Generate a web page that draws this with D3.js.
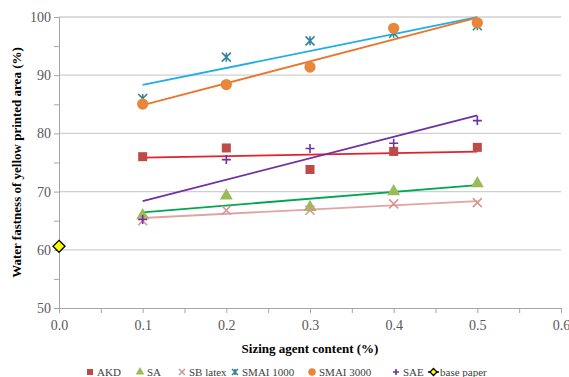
<!DOCTYPE html>
<html>
<head>
<meta charset="utf-8">
<script src="https://cdn.jsdelivr.net/npm/d3@7"></script>
<style>
  body { margin: 0; background: #fff; }
</style>
</head>
<body>
<div id="chart"></div>
<script>
// data
const content = [0.1, 0.2, 0.3, 0.4, 0.5];
const akd = [76.0, 77.5, 73.8, 76.9, 77.6];
const sa = [65.9, 69.3, 67.3, 70.0, 71.4];
const sbLatex = [65.0, 66.8, 66.8, 67.9, 68.1];
const smai1000 = [86.0, 93.1, 95.9, 97.2, 98.5];
const smai3000 = [85.05, 88.4, 91.4, 98.05, 99.0];
const sae = [65.2, 75.5, 77.4, 78.3, 82.2];
const basePaper = [[0.0, 60.6]];
const xTicks = [0, 0.1, 0.2, 0.3, 0.4, 0.5, 0.6];
const yTicks = [50, 60, 70, 80, 90, 100];

const width = 569, height = 377;
const margin = {left: 59, right: 8, top: 17, bottom: 69};
const serif = "'Liberation Serif'";

let svg = d3.select("#chart").append("svg")
    .attr("width", width)
    .attr("height", height);

let x = d3.scaleLinear().domain([0, 0.6]).range([margin.left, width - margin.right]);
let y = d3.scaleLinear().domain([50, 100]).range([height - margin.bottom, margin.top]);

// series: name, values, marker colour, trend colour, symbol
let series = [
    {name: "AKD", vals: akd, col: "#BE4B48", trend: "#E5202A", sym: "square"},
    {name: "SA", vals: sa, col: "#9BBB59", trend: "#00A651", sym: "triangle"},
    {name: "SB latex", vals: sbLatex, col: "#D99594", trend: "#E2A3A3", sym: "x"},
    {name: "SMAI 1000", vals: smai1000, col: "#31859C", trend: "#1FAEE5", sym: "star"},
    {name: "SMAI 3000", vals: smai3000, col: "#E8873A", trend: "#E8772E", sym: "circle"},
    {name: "SAE", vals: sae, col: "#7030A0", trend: "#7030A0", sym: "plus"}
];

// gridlines
svg.append("g").selectAll("line")
    .data(yTicks.filter(d => d > 50))
    .join("line")
    .attr("x1", x(0)).attr("x2", x(0.6))
    .attr("y1", d => y(d)).attr("y2", d => y(d))
    .style("stroke", "#D0D0D0").style("stroke-width", 1.3);

// axes
let yAxis = d3.axisLeft(y).tickValues(yTicks).tickSize(5).tickFormat(d3.format("d"));
let yMinor = d3.axisLeft(y).tickValues([55, 65, 75, 85, 95]).tickSize(5).tickFormat("");
let xAxis = d3.axisBottom(x).tickValues(xTicks).tickSize(5).tickFormat(d3.format(".1f"));
let xMinor = d3.axisBottom(x).tickValues([0.05, 0.15, 0.25, 0.35, 0.45, 0.55]).tickSize(5).tickFormat("");

function styleAxis(g) {
    g.selectAll("path, line").style("stroke", "#A6A6A6");
    g.selectAll("text").style("font-family", serif).style("font-size", "14px").style("fill", "#595959");
}
svg.append("g").attr("transform", "translate(" + x(0) + ",0)").call(yAxis).call(styleAxis)
    .selectAll("text").attr("x", -8);
svg.append("g").attr("transform", "translate(" + x(0) + ",0)").call(yMinor).call(styleAxis);
svg.append("g").attr("transform", "translate(0," + y(50) + ")").call(xAxis).call(styleAxis)
    .selectAll("text").attr("y", 12);
svg.append("g").attr("transform", "translate(0," + y(50) + ")").call(xMinor).call(styleAxis);

// titles
svg.append("text")
    .attr("transform", "translate(21," + ((y(50) + y(100)) / 2) + ") rotate(-90)")
    .attr("text-anchor", "middle")
    .style("font-family", serif)
    .style("font-size", "13px").style("font-weight", "bold")
    .text("Water fastness of yellow printed area  (%)");
svg.append("text")
    .attr("x", (x(0) + x(0.6)) / 2).attr("y", 353)
    .attr("text-anchor", "middle")
    .style("font-family", serif)
    .style("font-size", "13px").style("font-weight", "bold")
    .text("Sizing agent content  (%)");

// linear trend for each series
function fit(xs, ys) {
    let mx = d3.mean(xs), my = d3.mean(ys);
    let sxy = d3.sum(xs, (v, i) => (v - mx) * (ys[i] - my));
    let sxx = d3.sum(xs, v => (v - mx) * (v - mx));
    let b = sxy / sxx;
    return v => my + b * (v - mx);
}

let trendG = svg.append("g");
series.forEach(s => {
    let f = fit(content, s.vals);
    let ends = [content[0], content[content.length - 1]];
    trendG.append("path")
        .datum(ends)
        .attr("d", d3.line().x(d => x(d)).y(d => y(f(d))))
        .style("fill", "none").style("stroke", s.trend).style("stroke-width", 1.8);
});

// marker drawing
function marker(g, sym, col, size) {
    let h = size / 2;
    if (sym == "square") {
        g.append("rect").attr("x", -h).attr("y", -h).attr("width", size).attr("height", size)
            .style("fill", col);
    } else if (sym == "triangle") {
        g.append("path").attr("d", d3.symbol(d3.symbolTriangle, size * size * 0.9)())
            .style("fill", col);
    } else if (sym == "circle") {
        g.append("circle").attr("r", h * 1.25).style("fill", col);
    } else if (sym == "x") {
        g.append("path").attr("d", `M${-h},${-h}L${h},${h}M${-h},${h}L${h},${-h}`)
            .style("stroke", col).style("stroke-width", 1.6);
    } else if (sym == "plus") {
        g.append("path").attr("d", `M${-h},0L${h},0M0,${-h}L0,${h}`)
            .style("stroke", col).style("stroke-width", 1.6);
    } else if (sym == "star") {
        g.append("path").attr("d", `M${-h},${-h}L${h},${h}M${-h},${h}L${h},${-h}M0,${-h}L0,${h}`)
            .style("stroke", col).style("stroke-width", 1.6);
    }
}

series.forEach(s => {
    svg.append("g").selectAll("g")
        .data(content.map((c, i) => [c, s.vals[i]]))
        .join("g")
        .attr("transform", d => "translate(" + x(d[0]) + "," + y(d[1]) + ")")
        .each(function() { marker(d3.select(this), s.sym, s.col, 9); });
});

// base paper
function diamond(g, size) {
    g.append("path").attr("d", `M0,${-size}L${size},0L0,${size}L${-size},0Z`)
        .style("fill", "#FFFF00").style("stroke", "#000").style("stroke-width", 1.3);
}
svg.append("g").selectAll("g")
    .data(basePaper)
    .join("g")
    .attr("transform", d => "translate(" + x(d[0]) + "," + y(d[1]) + ")")
    .each(function() { diamond(d3.select(this), 6); });

// legend
let legX = [90, 140, 182, 235, 312, 396];
let legend = svg.append("g").attr("transform", "translate(0,372)");
series.forEach((s, i) => {
    let g = legend.append("g").attr("transform", "translate(" + legX[i] + ",0)");
    marker(g, s.sym, s.col, 6);
    g.append("text").attr("x", 7).attr("y", 4)
        .style("font-family", serif)
        .style("font-size", "11px").style("fill", "#404040").text(s.name);
});
let bp = legend.append("g").attr("transform", "translate(428,0)");
bp.append("line").attr("x1", 0).attr("x2", 11).style("stroke", "#000").style("stroke-width", 1.5);
diamond(bp.append("g").attr("transform", "translate(5.5,0)"), 3.5);
bp.append("text").attr("x", 12).attr("y", 4)
    .style("font-family", serif)
    .style("font-size", "11px").style("fill", "#404040").text("base paper");
</script>
</body>
</html>
